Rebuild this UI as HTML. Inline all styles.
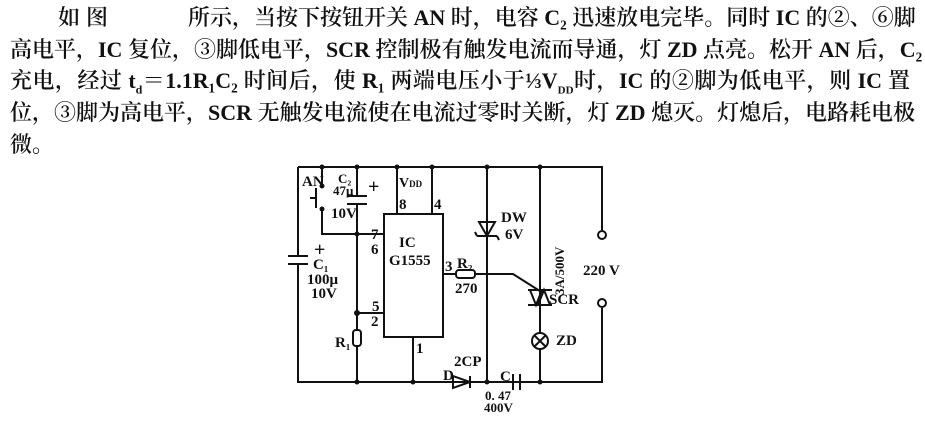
<!DOCTYPE html>
<html><head><meta charset="utf-8"><style>
body{margin:0;background:#fff;width:925px;height:428px;overflow:hidden;position:relative}
.t{position:absolute;font-family:"Liberation Serif","Noto Serif CJK SC",serif;font-size:22px;font-weight:600;color:#111;white-space:nowrap;text-align:justify;text-align-last:justify;line-height:26px}
svg{position:absolute;left:0;top:0}
</style></head><body>
<div class="t" style="left:58px;top:5px;width:50px">如图</div>
<div class="t" style="left:188px;top:5px;width:722px">所示，当按下按钮开关 AN 时，电容 C₂ 迅速放电完毕。同时 IC 的②、⑥脚</div>
<div class="t" style="left:10px;top:37px;width:900px">高电平，IC 复位，③脚低电平，SCR 控制极有触发电流而导通，灯 ZD 点亮。松开 AN 后，C₂</div>
<div class="t" style="left:10px;top:68px;width:900px">充电，经过 t<sub style="font-size:12px">d</sub>＝1.1R₁C₂ 时间后，使 R₁ 两端电压小于⅓V<sub style="font-size:11px">DD</sub>时，IC 的②脚为低电平，则 IC 置</div>
<div class="t" style="left:10px;top:100px;width:900px">位，③脚为高电平，SCR 无触发电流使在电流过零时关断，灯 ZD 熄灭。灯熄后，电路耗电极</div>
<div class="t" style="left:10px;top:132px;width:30px;text-align-last:left">微。</div>
<svg width="925" height="428" viewBox="0 0 925 428" font-family="Liberation Serif, serif" font-weight="bold" font-size="15" fill="#111">
<g stroke="#111" stroke-width="2" fill="none">
<path d="M298 167H602V230"/>
<path d="M298 167V256M298 264V382H602V308"/>
<path d="M322 167V185M322 210V234H384"/>
<path d="M316 188V208M316 198H310"/>
<path d="M357 167V196M357 204V330M357 346V382"/>
<path d="M347 196H367M347 204H367"/>
<rect x="353" y="330" width="8" height="16" rx="3"/>
<path d="M357 313H384"/>
<path d="M288 256H308M288 264H308"/>
<rect x="384" y="214" width="59" height="123"/>
<path d="M397 167V214M432 167V214M413 337V382"/>
<path d="M443 274H456M475 274H513L543 293"/>
<rect x="456" y="270" width="19" height="8" rx="3"/>
<path d="M487 167V382"/>
<path d="M479 222H495L487 236Z M477 236H497M477 236L475 232M497 236L499 240"/>
<path d="M540 167V333M540 349V382"/>
<path d="M528 290H552M528 305H552M530 290L536 305L542 290M538 305L544 290L550 305"/>
<circle cx="540" cy="341" r="8"/>
<path d="M534 335L546 347M546 335L534 347"/>
<path d="M453 376V388L470 382Z M470 376V388"/>
<path d="M513 374V390M520 374V390"/>
<circle cx="602" cy="235" r="4"/>
<circle cx="602" cy="303" r="4"/>
</g>
<g fill="#111">
<circle cx="322" cy="167" r="2.5"/><circle cx="357" cy="167" r="2.5"/><circle cx="397" cy="167" r="2.5"/><circle cx="432" cy="167" r="2.5"/><circle cx="487" cy="167" r="2.5"/><circle cx="540" cy="167" r="2.5"/>
<circle cx="357" cy="234" r="2.5"/><circle cx="357" cy="313" r="3"/>
<circle cx="357" cy="382" r="2.5"/><circle cx="413" cy="382" r="2.5"/><circle cx="487" cy="382" r="2.5"/><circle cx="540" cy="382" r="2.5"/>
<circle cx="322" cy="186" r="2.5"/><circle cx="322" cy="209" r="2.5"/>
</g>
<text x="302" y="186">AN</text>
<text x="338" y="183" font-size="13">C₂</text>
<text x="333" y="195" font-size="13">47μ</text>
<text x="331" y="218">10V</text>
<text x="368" y="193" font-size="20">+</text>
<text x="399" y="187" font-size="14">V<tspan font-size="9">DD</tspan></text>
<text x="399" y="209">8</text><text x="434" y="209">4</text>
<text x="371" y="239">7</text><text x="371" y="254">6</text>
<text x="399" y="247">IC</text><text x="389" y="265">G1555</text>
<text x="445" y="271">3</text>
<text x="372" y="311">5</text><text x="371" y="326">2</text>
<text x="416" y="353">1</text>
<text x="314" y="256" font-size="20">+</text>
<text x="313" y="269">C₁</text><text x="307" y="284">100μ</text><text x="311" y="298">10V</text>
<text x="335" y="347">R₁</text>
<text x="457" y="268">R₂</text><text x="455" y="293">270</text>
<text x="501" y="222">DW</text><text x="505" y="239">6V</text>
<text x="549" y="304">SCR</text>
<text x="556" y="345">ZD</text>
<text x="564" y="295" font-size="13" transform="rotate(-90 564 295)">3A/500V</text>
<text x="583" y="275">220 V</text>
<text x="454" y="366">2CP</text><text x="443" y="380">D</text>
<text x="500" y="381">C</text>
<text x="485" y="400" font-size="13">0. 47</text><text x="484" y="412" font-size="13">400V</text>
</svg>
</body></html>
